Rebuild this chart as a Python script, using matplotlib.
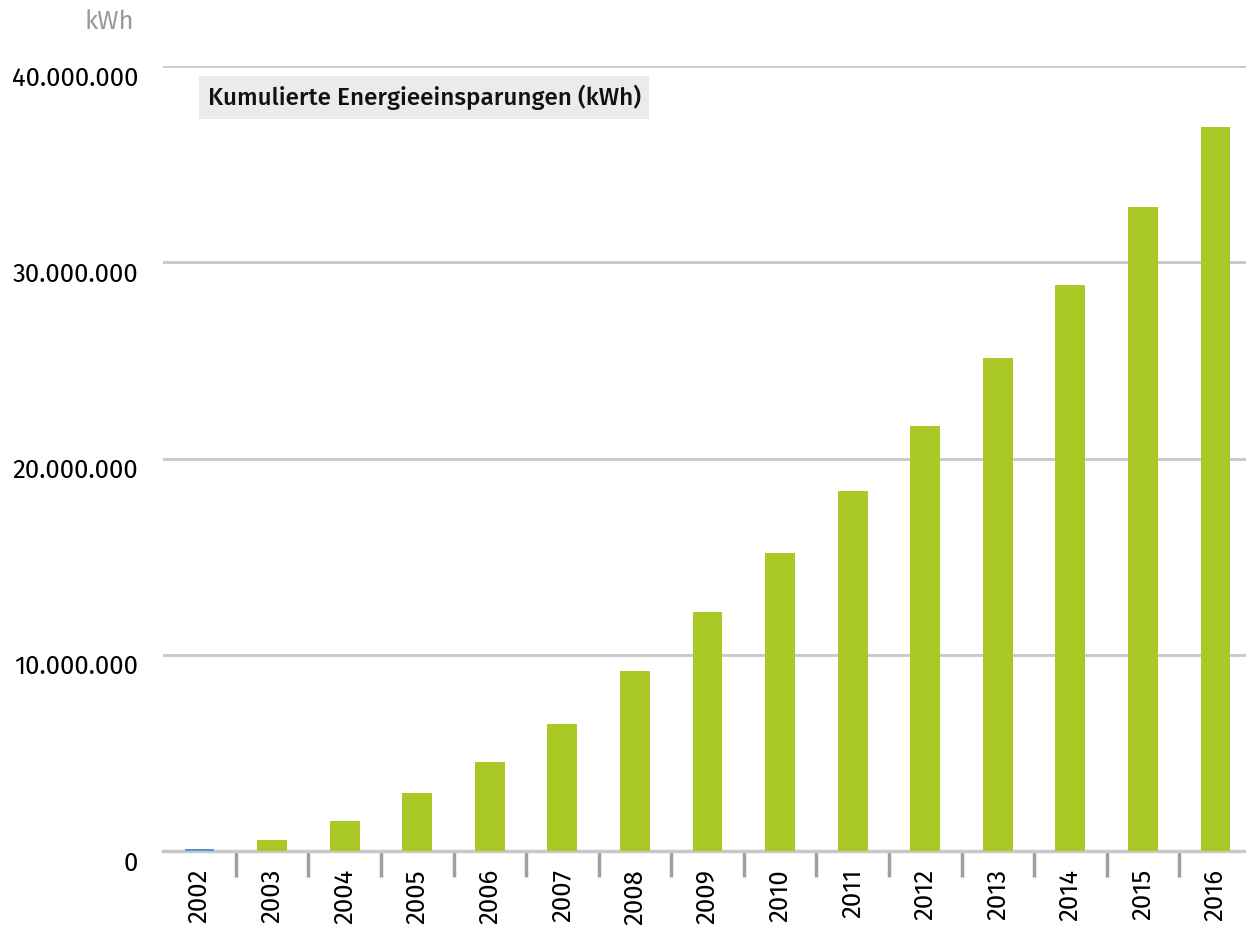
import matplotlib.pyplot as plt
import numpy as np

years = ['2002', '2003', '2004', '2005', '2006', '2007', '2008', '2009',
         '2010', '2011', '2012', '2013', '2014', '2015', '2016']
savings = [0.1e6, 0.56e6, 1.53e6, 2.96e6, 4.54e6, 6.47e6, 9.17e6, 12.18e6,
           15.18e6, 18.34e6, 21.66e6, 25.12e6, 28.84e6, 32.82e6, 36.89e6]
yticks = [0, 10e6, 20e6, 30e6, 40e6]
ytick_labels = ['0', '10.000.000', '20.000.000', '30.000.000', '40.000.000']

plt.rcParams['font.family'] = ['Fira Sans', 'DejaVu Sans']

fig = plt.figure(figsize=(12.46, 9.31), dpi=100)
ax = fig.add_axes([0.131, 0.086, 0.869, 0.843])

x = np.arange(len(years))
colors = ['#5b8fd6'] + ['#abc926'] * (len(years) - 1)
ax.bar(x, savings, width=0.41, color=colors, zorder=3)

ax.set_ylim(0, 40e6)
ax.set_xlim(-0.5, 14.42)
ax.set_yticks(yticks)
ax.set_yticklabels(ytick_labels, fontsize=18.5)
ax.tick_params(axis='y', length=0, pad=18)
for lbl in ax.get_yticklabels():
    lbl.set_va('top')
ax.grid(axis='y', color='#c8c8c8', linewidth=2, zorder=0)

# year labels without ticks, separator ticks between categories
ax.set_xticks(x)
ax.set_xticklabels(years, rotation=90, fontsize=18.5)
ax.tick_params(axis='x', length=0, pad=13)
ax.set_xticks(x[:-1] + 0.5, minor=True)
ax.tick_params(axis='x', which='minor', length=19, width=2.5, color='#a0a0a0')

for s in ['top', 'right', 'left']:
    ax.spines[s].set_visible(False)
ax.spines['bottom'].set_color('#c8c8c8')
ax.spines['bottom'].set_linewidth(2.5)

fig.text(0.068, 0.977, 'kWh', fontsize=18.5, color='#999999', ha='left', va='center')
ax.text(0.041, 0.96, 'Kumulierte Energieeinsparungen (kWh)', transform=ax.transAxes,
        fontsize=17.5, fontweight='medium', color='#111111', va='center', ha='left',
        bbox=dict(boxstyle='square,pad=0.35', facecolor='#ebebeb', edgecolor='none'),
        zorder=5)

plt.savefig('out.png', dpi=100)
